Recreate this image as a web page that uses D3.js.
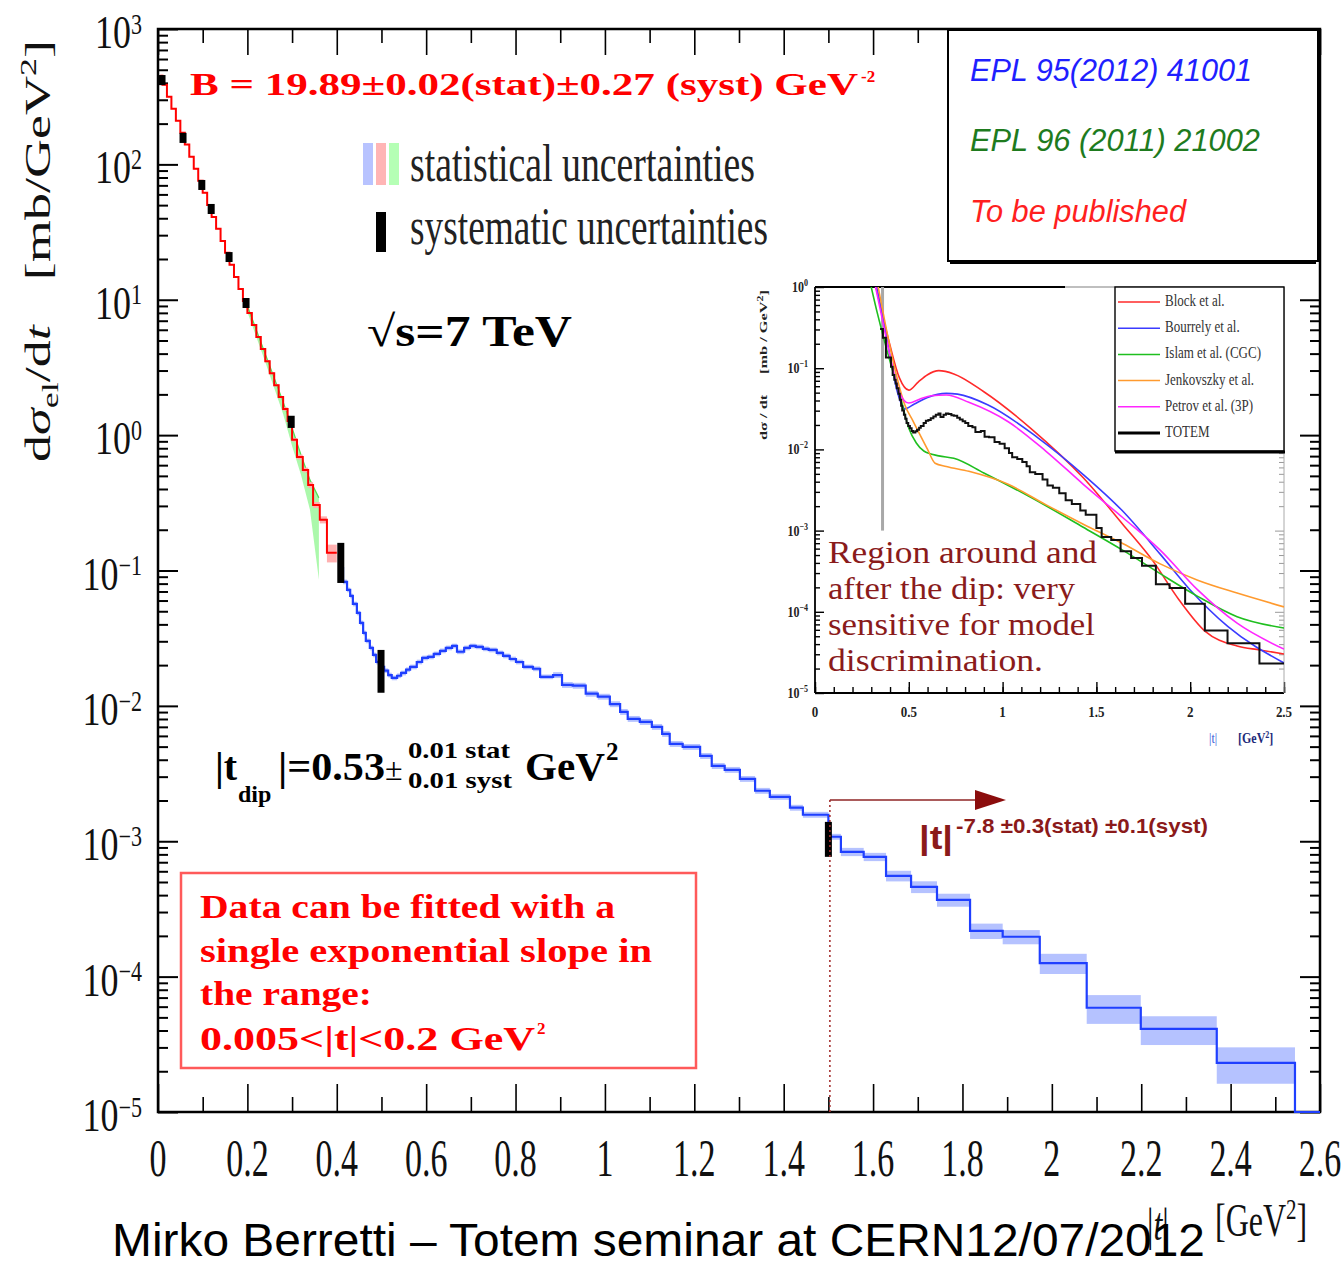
<!DOCTYPE html>
<html>
<head>
<meta charset="utf-8">
<script src="https://cdn.jsdelivr.net/npm/d3@7"></script>
<style>
  body { margin: 0; background: #fff; }
  svg { display: block; }
</style>
</head>
<body>
<svg id="chart" width="1344" height="1264"></svg>
<script>
// ---------------- data ----------------
// low-|t| measurement (red histogram): bin edges [GeV^2] and dσ/dt [mb/GeV^2]
const redEdges = [0.005, 0.01, 0.02, 0.03, 0.04, 0.05, 0.06, 0.07, 0.08, 0.09, 0.10, 0.11, 0.12, 0.13, 0.14, 0.15, 0.16, 0.17, 0.18, 0.19, 0.20, 0.21, 0.22, 0.23, 0.24, 0.25, 0.26, 0.27, 0.28, 0.29, 0.30, 0.311, 0.324, 0.336, 0.347, 0.362, 0.378, 0.400];
const redValues = [452, 388, 316, 258, 210, 171, 140, 114, 92.7, 75.6, 61.6, 50.2, 40.9, 33.4, 27.2, 22.2, 18.1, 14.7, 12.0, 9.79, 7.98, 6.51, 5.30, 4.32, 3.52, 2.87, 2.34, 1.91, 1.56, 1.27, 0.923, 0.690, 0.553, 0.428, 0.305, 0.237, 0.135];
const redStatErr = [0.01, 0.01, 0.01, 0.01, 0.01, 0.01, 0.01, 0.01, 0.01, 0.01, 0.01, 0.01, 0.01, 0.01, 0.01, 0.01, 0.01, 0.01, 0.01, 0.01, 0.015, 0.015, 0.015, 0.015, 0.02, 0.02, 0.02, 0.02, 0.03, 0.03, 0.03, 0.04, 0.04, 0.05, 0.05, 0.06, 0.15];

// intermediate-|t| measurement (green statistical band)
const greenT = [0.20, 0.24, 0.28, 0.30, 0.32, 0.34, 0.36];
const greenLow = [8.13, 3.47, 1.43, 0.832, 0.508, 0.281, 0.0853];
const greenHigh = [9.0, 3.98, 1.76, 1.13, 0.714, 0.467, 0.344];

// large-|t| measurement (blue histogram)
const blueEdges = [0.405, 0.414, 0.423, 0.430, 0.436, 0.445, 0.452, 0.459, 0.465, 0.474, 0.481, 0.488, 0.497, 0.506, 0.515, 0.523, 0.535, 0.544, 0.555, 0.564, 0.579, 0.591, 0.604, 0.617, 0.631, 0.644, 0.658, 0.669, 0.685, 0.698, 0.711, 0.727, 0.740, 0.758, 0.772, 0.787, 0.801, 0.817, 0.839, 0.855, 0.884, 0.904, 0.928, 0.957, 0.984, 1.011, 1.034, 1.051, 1.078, 1.105, 1.128, 1.145, 1.174, 1.213, 1.239, 1.268, 1.302, 1.336, 1.369, 1.414, 1.443, 1.500, 1.528, 1.579, 1.629, 1.685, 1.743, 1.817, 1.890, 1.973, 2.078, 2.199, 2.369, 2.544];
const blueValues = [0.104, 0.0824, 0.0719, 0.0649, 0.0566, 0.0486, 0.0410, 0.0346, 0.0302, 0.0268, 0.0238, 0.0211, 0.0194, 0.0182, 0.0169, 0.0161, 0.0167, 0.0175, 0.0185, 0.0194, 0.0211, 0.0226, 0.0230, 0.0242, 0.0255, 0.0268, 0.0277, 0.0251, 0.0268, 0.0277, 0.0273, 0.0264, 0.0259, 0.0246, 0.0234, 0.0222, 0.0211, 0.0194, 0.0188, 0.0164, 0.0169, 0.0143, 0.0141, 0.0123, 0.0117, 0.0103, 0.00903, 0.00802, 0.00762, 0.00700, 0.00621, 0.00524, 0.00498, 0.00427, 0.00360, 0.00337, 0.00289, 0.00236, 0.00213, 0.00177, 0.00157, 0.00108, 0.000835, 0.000767, 0.000555, 0.000460, 0.000369, 0.000218, 0.000197, 0.000126, 0.0000589, 0.0000411, 0.0000231];
const blueStatErr = [0.04, 0.04, 0.04, 0.04, 0.04, 0.04, 0.04, 0.04, 0.04, 0.04, 0.04, 0.04, 0.04, 0.04, 0.04, 0.04, 0.04, 0.04, 0.04, 0.04, 0.04, 0.04, 0.04, 0.04, 0.04, 0.04, 0.04, 0.04, 0.04, 0.04, 0.04, 0.04, 0.04, 0.04, 0.04, 0.04, 0.04, 0.04, 0.04, 0.04, 0.05, 0.05, 0.05, 0.05, 0.05, 0.05, 0.05, 0.05, 0.05, 0.05, 0.05, 0.05, 0.05, 0.05, 0.05, 0.05, 0.05, 0.05, 0.05, 0.05, 0.05, 0.05, 0.07, 0.07, 0.09, 0.10, 0.11, 0.13, 0.12, 0.17, 0.24, 0.24, 0.30];
const blueTailEnd = 2.6;   // empty bins up to the end of the axis

// systematic uncertainties: |t| position and low/high edge [mb/GeV^2]
const sysT = [0.009, 0.056, 0.098, 0.119, 0.159, 0.197, 0.298, 0.409, 0.499, 1.500];
const sysLow = [385, 144, 64.7, 43.0, 19.0, 8.69, 1.13, 0.0809, 0.0125, 0.000767];
const sysHigh = [457, 171, 76.7, 51.0, 22.5, 10.3, 1.39, 0.160, 0.0259, 0.00139];

// model predictions shown in the inset (|t| [GeV^2], dσ/dt [mb/GeV^2])
const blockT = [0.30, 0.35, 0.40, 0.45, 0.50, 0.55, 0.60, 0.66, 0.74, 0.90, 1.15, 1.43, 1.64, 1.80, 1.94, 2.08, 2.25, 2.37, 2.50];
const blockV = [1.78, 0.562, 0.19, 0.0759, 0.0537, 0.0676, 0.0832, 0.0933, 0.0851, 0.0513, 0.0182, 0.00447, 0.00120, 0.000427, 0.000141, 0.0000575, 0.0000380, 0.0000339, 0.0000302];
const bourrelyT = [0.31, 0.36, 0.40, 0.44, 0.48, 0.53, 0.60, 0.70, 0.76, 0.92, 1.19, 1.43, 1.64, 1.84, 2.00, 2.20, 2.50];
const bourrelyV = [1.585, 0.447, 0.141, 0.0501, 0.0316, 0.0363, 0.0437, 0.0490, 0.0479, 0.0355, 0.0138, 0.0049, 0.00174, 0.000513, 0.000186, 0.0000661, 0.0000234];
const islamT = [0.28, 0.33, 0.38, 0.42, 0.46, 0.50, 0.54, 0.58, 0.66, 0.74, 0.90, 1.15, 1.43, 1.64, 1.84, 2.04, 2.25, 2.50];
const islamV = [1.585, 0.501, 0.178, 0.0832, 0.0398, 0.0182, 0.0120, 0.00955, 0.00832, 0.00776, 0.00513, 0.00257, 0.00110, 0.000575, 0.000295, 0.000155, 0.0000871, 0.0000631];
const jenkovszkyT = [0.32, 0.37, 0.42, 0.48, 0.52, 0.56, 0.60, 0.64, 0.70, 0.82, 1.03, 1.23, 1.43, 1.64, 1.84, 2.04, 2.25, 2.50];
const jenkovszkyV = [1.585, 0.398, 0.112, 0.0347, 0.0229, 0.0151, 0.0100, 0.00676, 0.00617, 0.00537, 0.00372, 0.00209, 0.00120, 0.000692, 0.000389, 0.000245, 0.000170, 0.000115];
const petrovT = [0.30, 0.35, 0.40, 0.45, 0.50, 0.56, 0.62, 0.70, 0.82, 1.03, 1.23, 1.43, 1.64, 1.84, 2.04, 2.25, 2.50];
const petrovV = [1.78, 0.501, 0.141, 0.0501, 0.0372, 0.0417, 0.0457, 0.0468, 0.0380, 0.0219, 0.00955, 0.00372, 0.00145, 0.000575, 0.000186, 0.0000724, 0.0000347];
const insetCut = 0.36;     // vertical marker in the inset

const modelNames = ['Block et al.', 'Bourrely et al.', 'Islam et al. (CGC)', 'Jenkovszky et al.', 'Petrov et al. (3P)', 'TOTEM'];
const modelColors = ['#ff2a2a', '#3b3bff', '#1fbf1f', '#ff9a2e', '#ff26ff', '#000'];

const xTickValues = [0, 0.2, 0.4, 0.6, 0.8, 1, 1.2, 1.4, 1.6, 1.8, 2, 2.2, 2.4, 2.6];
const xMinorValues = [0.1, 0.3, 0.5, 0.7, 0.9, 1.1, 1.3, 1.5, 1.7, 1.9, 2.1, 2.3, 2.5];
const yExponents = [-5, -4, -3, -2, -1, 0, 1, 2, 3];
const insetXTicks = [0, 0.5, 1, 1.5, 2, 2.5];
const insetYExponents = [-5, -4, -3, -2, -1, 0];

// ---------------- setup ----------------
const SERIF = "'Liberation Serif', 'Times New Roman', serif";
const SANS = "'Liberation Sans', Arial, sans-serif";
const svg = d3.select('#chart');
svg.append('rect').attr('width', 1344).attr('height', 1264).attr('fill', '#fff');

const x = d3.scaleLinear().domain([0, 2.6]).range([158, 1320]);
const y = d3.scaleLog().domain([1e-5, 1e3]).range([1112, 29]);

const majorY = yExponents.map(e => Math.pow(10, e));
const minorY = [];
yExponents.slice(0, -1).forEach(e => { for (let m = 2; m <= 9; m++) minorY.push(m * Math.pow(10, e)); });

function tickAxis(parent, axisFn, scale, values, size, tr, w) {
  const g = parent.append('g').attr('transform', tr)
    .call(axisFn(scale).tickValues(values).tickSize(size).tickFormat(''));
  g.select('.domain').remove();
  g.selectAll('line').attr('stroke', '#000').attr('stroke-width', w);
  g.selectAll('text').remove();
  return g;
}

// text that can be stretched vertically
function label(parent, px, py, sy) {
  const g = parent.append('g').attr('transform', `translate(${px},${py}) scale(1,${sy || 1})`);
  return g.append('text').attr('x', 0).attr('y', 0);
}

function stepPoints(edges, values) {
  const pts = values.map((v, i) => [edges[i], v]);
  pts.push([edges[edges.length - 1], values[values.length - 1]]);
  return pts;
}

// ---------------- main axes ----------------
const axes = svg.append('g');
tickAxis(axes, d3.axisRight, y, majorY, 20, 'translate(158,0)', 2);
tickAxis(axes, d3.axisRight, y, minorY, 10, 'translate(158,0)', 2);
tickAxis(axes, d3.axisLeft, y, majorY, 20, 'translate(1320,0)', 2);
tickAxis(axes, d3.axisLeft, y, minorY, 10, 'translate(1320,0)', 2);
tickAxis(axes, d3.axisTop, x, xTickValues, 28, 'translate(0,1112)', 1.6);
tickAxis(axes, d3.axisTop, x, xMinorValues, 15, 'translate(0,1112)', 1.6);
tickAxis(axes, d3.axisBottom, x, xTickValues, 26, 'translate(0,29)', 1.6);
tickAxis(axes, d3.axisBottom, x, xMinorValues, 14, 'translate(0,29)', 1.6);

axes.append('rect')
  .attr('x', x(0)).attr('y', y(1e3))
  .attr('width', x(2.6) - x(0)).attr('height', y(1e-5) - y(1e3))
  .attr('fill', 'none').attr('stroke', '#000').attr('stroke-width', 2.5);

// y tick labels 10^n
yExponents.forEach(e => {
  const t = label(svg, 142, y(Math.pow(10, e)) + 19, 1.3)
    .attr('text-anchor', 'end').attr('font-family', SERIF).attr('font-size', 36).attr('fill', '#111');
  t.append('tspan').text('10');
  t.append('tspan').attr('dy', -11).attr('font-size', 22).text(e < 0 ? '\u2212' + (-e) : String(e));
});

// x tick labels
xTickValues.forEach(v => {
  label(svg, x(v), 1176, 1.55)
    .attr('text-anchor', 'middle').attr('font-family', SERIF).attr('font-size', 34).attr('fill', '#111')
    .text(Number.isInteger(v) ? String(v) : v.toFixed(1));
});

// y axis title
{
  const t = svg.append('text')
    .attr('transform', 'translate(50,251) rotate(-90)')
    .attr('text-anchor', 'middle').attr('font-family', SERIF).attr('font-size', 36).attr('fill', '#111')
    .attr('textLength', 422).attr('lengthAdjust', 'spacingAndGlyphs');
  t.append('tspan').text('d');
  t.append('tspan').attr('font-style', 'italic').text('\u03c3');
  t.append('tspan').attr('dy', 8).attr('font-size', 24).text('el');
  t.append('tspan').attr('dy', -8).text('/d');
  t.append('tspan').attr('font-style', 'italic').text('t');
  t.append('tspan').attr('dx', 30).text('[mb/GeV');
  t.append('tspan').attr('dy', -14).attr('font-size', 24).text('2');
  t.append('tspan').attr('dy', 14).text(']');
}

// x axis title
label(svg, 1147, 1240, 1.45).attr('font-family', SERIF).attr('font-size', 32).attr('fill', '#111')
  .call(t => { t.append('tspan').text('|'); t.append('tspan').attr('font-style', 'italic').text('t'); t.append('tspan').text('|'); });
label(svg, 1215, 1236, 1.45).attr('font-family', SERIF).attr('font-size', 32).attr('fill', '#111')
  .call(t => {
    t.append('tspan').text('[GeV');
    t.append('tspan').attr('dy', -12).attr('font-size', 21).text('2');
    t.append('tspan').attr('dy', 12).text(']');
  });

// ---------------- data marks ----------------
const plot = svg.append('g');
const lineStep = d3.line().x(d => x(d[0])).y(d => y(d[1])).curve(d3.curveStepAfter);

// green statistical band
plot.append('path')
  .datum(greenT.map((t, i) => ({ t, lo: greenLow[i], hi: greenHigh[i] })))
  .attr('d', d3.area().x(d => x(d.t)).y0(d => y(d.lo)).y1(d => y(d.hi)))
  .attr('fill', '#8ff58f').attr('opacity', 0.75);
plot.append('path')
  .datum(greenT.map((t, i) => [t, greenHigh[i]]))
  .attr('d', d3.line().x(d => x(d[0])).y(d => y(d[1])))
  .attr('fill', 'none').attr('stroke', '#55dd55').attr('stroke-width', 1.2);

// statistical bands of the histograms
plot.selectAll('rect.redband').data(redValues).join('rect')
  .attr('x', (v, i) => x(redEdges[i])).attr('width', (v, i) => x(redEdges[i + 1]) - x(redEdges[i]))
  .attr('y', (v, i) => y(v * (1 + redStatErr[i])))
  .attr('height', (v, i) => y(v * (1 - redStatErr[i])) - y(v * (1 + redStatErr[i])))
  .attr('fill', '#ffb0b0');
plot.selectAll('rect.blueband').data(blueValues).join('rect')
  .attr('x', (v, i) => x(blueEdges[i])).attr('width', (v, i) => x(blueEdges[i + 1]) - x(blueEdges[i]))
  .attr('y', (v, i) => y(v * (1 + blueStatErr[i])))
  .attr('height', (v, i) => y(v * (1 - blueStatErr[i])) - y(v * (1 + blueStatErr[i])))
  .attr('fill', '#b5c2ff');

// histograms
plot.append('path').datum(stepPoints(redEdges, redValues)).attr('d', lineStep)
  .attr('fill', 'none').attr('stroke', '#ff0000').attr('stroke-width', 2);
const bluePts = stepPoints(blueEdges, blueValues);
bluePts.push([blueEdges[blueEdges.length - 1], y.domain()[0]], [blueTailEnd, y.domain()[0]]);
plot.append('path').datum(bluePts).attr('d', lineStep)
  .attr('fill', 'none').attr('stroke', '#1f3fff').attr('stroke-width', 2.2);

// systematic uncertainties
plot.selectAll('rect.sys').data(sysT).join('rect')
  .attr('x', t => x(t) - 3.5).attr('width', 7)
  .attr('y', (t, i) => y(sysHigh[i]))
  .attr('height', (t, i) => Math.max(6, y(sysLow[i]) - y(sysHigh[i])))
  .attr('fill', '#000');

// ---------------- annotations ----------------
const ann = svg.append('g');
label(ann, 190, 95).attr('font-family', SERIF).attr('font-weight', 'bold').attr('font-size', 32).attr('fill', '#ff0000')
  .attr('textLength', 668).attr('lengthAdjust', 'spacingAndGlyphs')
  .text('B = 19.89\u00b10.02(stat)\u00b10.27 (syst)  GeV');
label(ann, 861, 82).attr('font-family', SERIF).attr('font-weight', 'bold').attr('font-size', 17).attr('fill', '#ff0000').text('-2');

// legend of uncertainties
[['#b8c3ff', 363], ['#ffb5b5', 376], ['#b5ffb5', 389]].forEach(([c, px]) => {
  ann.append('rect').attr('x', px).attr('y', 143).attr('width', 10).attr('height', 42).attr('fill', c);
});
ann.append('rect').attr('x', 376).attr('y', 212).attr('width', 10).attr('height', 40).attr('fill', '#000');
label(ann, 410, 181, 1.7).attr('font-family', SERIF).attr('font-size', 31).attr('fill', '#222')
  .attr('textLength', 345).attr('lengthAdjust', 'spacingAndGlyphs').text('statistical uncertainties');
label(ann, 410, 244, 1.7).attr('font-family', SERIF).attr('font-size', 31).attr('fill', '#222')
  .attr('textLength', 358).attr('lengthAdjust', 'spacingAndGlyphs').text('systematic uncertainties');

// energy
label(ann, 367, 346).attr('font-family', SERIF).attr('font-weight', 'bold').attr('font-size', 44).attr('fill', '#000')
  .attr('textLength', 205).attr('lengthAdjust', 'spacingAndGlyphs').text('\u221as=7 TeV');

// dip position
label(ann, 215, 780).attr('font-family', SERIF).attr('font-weight', 'bold').attr('font-size', 40).attr('fill', '#000').text('|t');
label(ann, 238, 802).attr('font-family', SERIF).attr('font-weight', 'bold').attr('font-size', 24).attr('fill', '#000').text('dip');
label(ann, 278, 780).attr('font-family', SERIF).attr('font-weight', 'bold').attr('font-size', 40).attr('fill', '#000')
  .attr('textLength', 107).attr('lengthAdjust', 'spacingAndGlyphs').text('|=0.53');
label(ann, 385, 780).attr('font-family', SERIF).attr('font-size', 32).attr('fill', '#000').text('\u00b1');
label(ann, 408, 758).attr('font-family', SERIF).attr('font-weight', 'bold').attr('font-size', 23).attr('fill', '#000')
  .attr('textLength', 102).attr('lengthAdjust', 'spacingAndGlyphs').text('0.01 stat');
label(ann, 408, 788).attr('font-family', SERIF).attr('font-weight', 'bold').attr('font-size', 23).attr('fill', '#000')
  .attr('textLength', 104).attr('lengthAdjust', 'spacingAndGlyphs').text('0.01 syst');
label(ann, 525, 780).attr('font-family', SERIF).attr('font-weight', 'bold').attr('font-size', 40).attr('fill', '#000')
  .attr('textLength', 80).attr('lengthAdjust', 'spacingAndGlyphs').text('GeV');
label(ann, 606, 760).attr('font-family', SERIF).attr('font-weight', 'bold').attr('font-size', 25).attr('fill', '#000').text('2');

// fit range box
ann.append('rect').attr('x', 181).attr('y', 873).attr('width', 515).attr('height', 195)
  .attr('fill', '#fff').attr('stroke', '#ff5a5a').attr('stroke-width', 2.5);
[['Data can be fitted with a', 918, 415], ['single exponential slope in', 962, 452], ['the range:', 1005, 172], ['0.005<|t|<0.2 GeV', 1050, 335]]
  .forEach(([s, by, len]) => {
    label(ann, 200, by).attr('font-family', SERIF).attr('font-weight', 'bold').attr('font-size', 34).attr('fill', '#ff0000')
      .attr('textLength', len).attr('lengthAdjust', 'spacingAndGlyphs').text(s);
  });
label(ann, 537, 1034).attr('font-family', SERIF).attr('font-weight', 'bold').attr('font-size', 17).attr('fill', '#ff0000').text('2');

// power-law tail
const tailX = x(1.5) + 1.5;
ann.append('line').attr('x1', tailX).attr('x2', tailX).attr('y1', 800).attr('y2', 1112)
  .attr('stroke', '#a53030').attr('stroke-width', 1.6).attr('stroke-dasharray', '2,3');
ann.append('line').attr('x1', tailX).attr('x2', 980).attr('y1', 800).attr('y2', 800)
  .attr('stroke', '#8f2525').attr('stroke-width', 1.6);
ann.append('path').attr('d', 'M975,790 L1006,800 L975,810 Z').attr('fill', '#8b0d0d');
label(ann, 919, 849).attr('font-family', SANS).attr('font-weight', 'bold').attr('font-size', 34).attr('fill', '#8b1a1a')
  .attr('textLength', 34).attr('lengthAdjust', 'spacingAndGlyphs').text('|t|');
label(ann, 956, 833).attr('font-family', SANS).attr('font-weight', 'bold').attr('font-size', 21).attr('fill', '#8b1a1a')
  .attr('textLength', 252).attr('lengthAdjust', 'spacingAndGlyphs').text('-7.8 \u00b10.3(stat) \u00b10.1(syst)');

// ---------------- inset: model comparison ----------------
const inset = svg.append('g');
const xi = d3.scaleLinear().domain([0, 2.5]).range([815, 1284]);
const yi = d3.scaleLog().domain([1e-5, 1]).range([693, 287]);
inset.append('rect').attr('x', 742).attr('y', 276).attr('width', 552).attr('height', 474).attr('fill', '#fff');

svg.append('defs').append('clipPath').attr('id', 'insetClip')
  .append('rect').attr('x', 815).attr('y', 287).attr('width', 469).attr('height', 406);

const iMajorY = insetYExponents.map(e => Math.pow(10, e));
const iMinorY = [];
insetYExponents.slice(0, -1).forEach(e => { for (let m = 2; m <= 9; m++) iMinorY.push(m * Math.pow(10, e)); });
const iMinorX = d3.range(0, 26).map(i => i / 10);
tickAxis(inset, d3.axisRight, yi, iMajorY, 9, 'translate(815,0)', 1.4);
tickAxis(inset, d3.axisRight, yi, iMinorY, 5, 'translate(815,0)', 1.4);
tickAxis(inset, d3.axisLeft, yi, iMajorY, 9, 'translate(1284,0)', 1).selectAll('line').attr('stroke', '#999');
tickAxis(inset, d3.axisLeft, yi, iMinorY, 5, 'translate(1284,0)', 1).selectAll('line').attr('stroke', '#999');
tickAxis(inset, d3.axisTop, xi, insetXTicks, 11, 'translate(0,693)', 1.4);
tickAxis(inset, d3.axisTop, xi, iMinorX, 6, 'translate(0,693)', 1.4);

inset.append('line').attr('x1', 815).attr('x2', 815).attr('y1', 287).attr('y2', 693).attr('stroke', '#000').attr('stroke-width', 1.8);
inset.append('line').attr('x1', 815).attr('x2', 1284).attr('y1', 693).attr('y2', 693).attr('stroke', '#000').attr('stroke-width', 2.2);
inset.append('line').attr('x1', 815).attr('x2', 1065).attr('y1', 287).attr('y2', 287).attr('stroke', '#000').attr('stroke-width', 2);
inset.append('line').attr('x1', 1065).attr('x2', 1284).attr('y1', 287).attr('y2', 287).attr('stroke', '#aaa').attr('stroke-width', 1.5);
inset.append('line').attr('x1', 1284).attr('x2', 1284).attr('y1', 287).attr('y2', 693).attr('stroke', '#aaa').attr('stroke-width', 1);

insetYExponents.forEach(e => {
  const t = label(inset, 808, yi(Math.pow(10, e)) + 5, 1.2)
    .attr('text-anchor', 'end').attr('font-family', SERIF).attr('font-weight', 'bold').attr('font-size', 12).attr('fill', '#222');
  t.append('tspan').text('10');
  t.append('tspan').attr('dy', -5).attr('font-size', 8).text(e < 0 ? '\u2212' + (-e) : String(e));
});
insetXTicks.forEach(v => {
  label(inset, xi(v), 717, 1.2).attr('text-anchor', 'middle').attr('font-family', SERIF).attr('font-weight', 'bold')
    .attr('font-size', 13).attr('fill', '#222').text(String(v));
});
label(inset, 1209, 743, 1.2).attr('font-family', SERIF).attr('font-size', 12).attr('fill', '#3358d8').text('|t|');
label(inset, 1238, 743, 1.2).attr('font-family', SERIF).attr('font-weight', 'bold').attr('font-size', 12).attr('fill', '#1d2a7a')
  .call(t => { t.append('tspan').text('[GeV'); t.append('tspan').attr('dy', -4).attr('font-size', 8).text('2'); t.append('tspan').attr('dy', 4).text(']'); });
{
  const t = inset.append('text').attr('transform', 'translate(767,365) rotate(-90)')
    .attr('text-anchor', 'middle').attr('font-family', SERIF).attr('font-weight', 'bold').attr('font-size', 11).attr('fill', '#222')
    .attr('textLength', 150).attr('lengthAdjust', 'spacingAndGlyphs');
  t.append('tspan').text('d\u03c3 / dt');
  t.append('tspan').attr('dx', 14).text('[mb / GeV');
  t.append('tspan').attr('dy', -4).attr('font-size', 8).text('2');
  t.append('tspan').attr('dy', 4).text(']');
}

const insetPlot = inset.append('g').attr('clip-path', 'url(#insetClip)');
insetPlot.append('line').attr('x1', xi(insetCut)).attr('x2', xi(insetCut)).attr('y1', yi(1)).attr('y2', yi(1e-3))
  .attr('stroke', '#a8a8a8').attr('stroke-width', 3);

const modelLine = d3.line().x(d => xi(d[0])).y(d => yi(d[1])).curve(d3.curveMonotoneX);
[[blockT, blockV], [bourrelyT, bourrelyV], [islamT, islamV], [jenkovszkyT, jenkovszkyV], [petrovT, petrovV]]
  .forEach(([ts, vs], k) => {
    insetPlot.append('path').datum(ts.map((t, i) => [t, vs[i]])).attr('d', modelLine)
      .attr('fill', 'none').attr('stroke', modelColors[k]).attr('stroke-width', 1.6);
  });

// TOTEM data in the inset (same histograms as the main plot, from the cut onwards)
const redStart = redEdges.findIndex(e => e >= 0.345);
const totemPts = stepPoints(redEdges.slice(redStart), redValues.slice(redStart)).concat(stepPoints(blueEdges, blueValues));
insetPlot.append('path').datum(totemPts)
  .attr('d', d3.line().x(d => xi(d[0])).y(d => yi(d[1])).curve(d3.curveStepAfter))
  .attr('fill', 'none').attr('stroke', '#111').attr('stroke-width', 2);

// inset legend
const leg = inset.append('g');
leg.append('rect').attr('x', 1115).attr('y', 287).attr('width', 169).attr('height', 164)
  .attr('fill', '#fff').attr('stroke', '#000').attr('stroke-width', 1.4);
leg.append('line').attr('x1', 1115).attr('x2', 1285).attr('y1', 452).attr('y2', 452).attr('stroke', '#000').attr('stroke-width', 3);
modelNames.forEach((name, i) => {
  const ly = 302 + i * 26.2;
  leg.append('line').attr('x1', 1118).attr('x2', 1160).attr('y1', ly).attr('y2', ly)
    .attr('stroke', modelColors[i]).attr('stroke-width', i === 5 ? 3.2 : 1.5);
  label(leg, 1165, ly + 4, 1.25).attr('font-family', SERIF).attr('font-size', 13).attr('fill', '#333').text(name);
});

// inset comment
[['Region around and', 563, 269], ['after the dip: very', 599, 247], ['sensitive for model', 635, 267], ['discrimination.', 671, 215]]
  .forEach(([s, by, len]) => {
    label(inset, 828, by).attr('font-family', SERIF).attr('font-size', 32).attr('fill', '#8a1b1b')
      .attr('textLength', len).attr('lengthAdjust', 'spacingAndGlyphs').text(s);
  });

// ---------------- references box ----------------
const ref = svg.append('g');
ref.append('rect').attr('x', 948).attr('y', 30).attr('width', 370).attr('height', 231)
  .attr('fill', '#fff').attr('stroke', '#000').attr('stroke-width', 2);
ref.append('line').attr('x1', 950).attr('x2', 1316).attr('y1', 262).attr('y2', 262).attr('stroke', '#000').attr('stroke-width', 4);
[['EPL 95(2012) 41001', 81, 282, '#1f1fff'], ['EPL 96 (2011) 21002', 151, 290, '#1e7b1e'], ['To be published', 222, 216, '#ff1f1f']]
  .forEach(([s, by, len, c]) => {
    label(ref, 970, by).attr('font-family', SANS).attr('font-style', 'italic').attr('font-size', 31).attr('fill', c)
      .attr('textLength', len).attr('lengthAdjust', 'spacingAndGlyphs').text(s);
  });

// ---------------- footer ----------------
label(svg, 112, 1256, 1.12)
  .attr('font-family', SANS).attr('font-size', 42).attr('fill', '#000')
  .attr('textLength', 1093).attr('lengthAdjust', 'spacingAndGlyphs')
  .text('Mirko Berretti \u2013 Totem seminar at CERN12/07/2012');
</script>
</body>
</html>
